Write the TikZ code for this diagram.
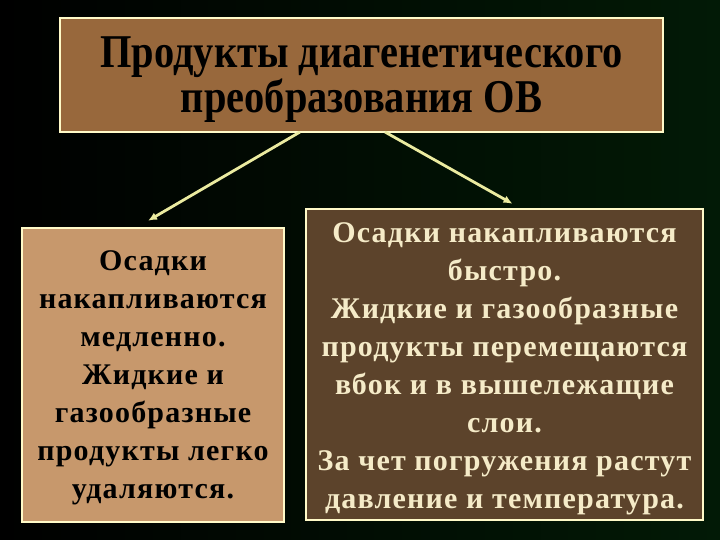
\documentclass[tikz,border=0pt]{standalone}
\usepackage{fontspec}
\setmainfont{Liberation Serif}
\newfontfamily\titlefont[FakeStretch=0.86]{Liberation Serif}
\newfontfamily\boxfont[LetterSpace=4]{Liberation Serif}
\usetikzlibrary{arrows.meta, positioning}
\definecolor{bgdark}{RGB}{0,0,0}
\definecolor{bggreen}{RGB}{2,26,6}
\definecolor{titlebrown}{RGB}{152,104,60}
\definecolor{slowtan}{RGB}{199,152,108}
\definecolor{fastbrown}{RGB}{92,67,43}
\definecolor{framecream}{RGB}{255,250,200}
\definecolor{arrowyellow}{RGB}{235,235,160}
\definecolor{lighttext}{RGB}{245,235,200}

\begin{document}
\begin{tikzpicture}[x=1pt,y=-1pt,
    panel/.style={rectangle,draw=framecream,line width=2.5pt,inner sep=0pt},
    link/.style={-{Latex[length=9pt,width=8pt]},line width=2.8pt,arrowyellow}]
    % fond
    \shade[left color=bgdark,right color=bggreen] (0,0) rectangle (720,540);
    \useasboundingbox (0,0) rectangle (720,540);

    % titre
    \node[panel,fill=titlebrown,minimum width=603pt,minimum height=114pt] (title) at (361.5,75) {};
    \node[font=\titlefont\fontsize{47}{43}\selectfont\bfseries,text=black,align=center] at ([yshift=-5pt]title.center) {Продукты диагенетического\\преобразования ОВ};

    % medlenno
    \node[panel,fill=slowtan,minimum width=262pt,minimum height=294pt] (slow) at (153,375) {};
    \node[font=\boxfont\fontsize{30}{38}\selectfont\bfseries,text=black,align=center] at ([yshift=-3pt]slow.center) {Осадки\\накапливаются\\медленно.\\Жидкие и\\газообразные\\продукты легко\\удаляются.};

    % bystro
    \node[panel,fill=fastbrown,minimum width=397pt,minimum height=311pt] (fast) at (504.5,364.5) {};
    \node[font=\boxfont\fontsize{30}{38}\selectfont\bfseries,text=lighttext,align=center] at ([yshift=-4pt]fast.center) {Осадки накапливаются\\быстро.\\Жидкие и газообразные\\продукты перемещаются\\вбок и в вышележащие\\слои.\\За чет погружения растут\\давление и температура.};

    \coordinate (fromL) at (300,132);
    \coordinate (fromR) at (385,132);
    \draw[link] (fromL) -- ([xshift=-5pt,yshift=6pt]slow.north);
    \draw[link] (fromR) -- ([xshift=8pt,yshift=4pt]fast.north);
\end{tikzpicture}
\end{document}
